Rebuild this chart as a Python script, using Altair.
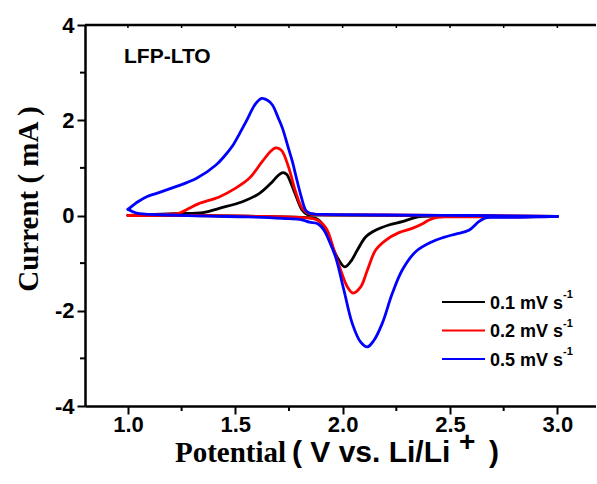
import altair as alt
import pandas as pd

# Cyclic voltammograms of the LFP-LTO cell at three scan rates.
# Each loop is stored as an anodic sweep (1.0 -> 3.0 V) and a cathodic sweep (3.0 -> 1.0 V).
rates = ["0.1 mV s", "0.2 mV s", "0.5 mV s"]
colors = ["#000000", "#ff0000", "#0000ff"]

# 0.1 mV/s
v_an_1 = [1.0, 1.22, 1.35, 1.425, 1.533, 1.611, 1.673, 1.704, 1.723, 1.74, 1.75, 1.781, 1.812, 1.835, 1.9, 2.4, 3.0]
i_an_1 = [0.0, 0.04, 0.06, 0.15, 0.29, 0.46, 0.71, 0.86, 0.90, 0.86, 0.78, 0.43, 0.11, 0.02, 0.01, 0.0, -0.02]
v_ca_1 = [3.0, 2.6, 2.37, 2.324, 2.277, 2.215, 2.153, 2.107, 2.068, 2.037, 2.009, 1.983, 1.951, 1.92, 1.897, 1.874, 1.82, 1.56, 1.3, 1.0]
i_ca_1 = [-0.02, -0.02, -0.02, -0.06, -0.13, -0.2, -0.31, -0.45, -0.73, -0.97, -1.08, -0.94, -0.66, -0.31, -0.13, -0.06, -0.04, -0.015, 0.0, 0.0]

# 0.2 mV/s
v_an_2 = [1.0, 1.15, 1.24, 1.285, 1.33, 1.425, 1.50, 1.565, 1.625, 1.665, 1.688, 1.705, 1.72, 1.75, 1.781, 1.812, 1.843, 1.9, 2.2, 2.6, 3.0]
i_an_2 = [0.0, 0.02, 0.05, 0.15, 0.25, 0.39, 0.57, 0.78, 1.13, 1.35, 1.42, 1.40, 1.34, 0.99, 0.50, 0.15, 0.04, 0.02, 0.01, 0.0, -0.02]
v_ca_2 = [3.0, 2.8, 2.5, 2.44, 2.40, 2.37, 2.324, 2.262, 2.2, 2.153, 2.115, 2.084, 2.048, 2.022, 1.991, 1.96, 1.928, 1.905, 1.874, 1.80, 1.56, 1.3, 1.0]
i_ca_2 = [-0.02, -0.03, -0.03, -0.04, -0.10, -0.18, -0.27, -0.36, -0.52, -0.73, -1.15, -1.50, -1.63, -1.50, -1.15, -0.73, -0.31, -0.17, -0.08, -0.04, -0.015, 0.0, 0.0]

# 0.5 mV/s
v_an_5 = [1.0, 1.05, 1.09, 1.13, 1.22, 1.32, 1.41, 1.45, 1.49, 1.52, 1.55, 1.595, 1.623, 1.65, 1.673, 1.70, 1.72, 1.745, 1.766, 1.785, 1.805, 1.828, 1.845, 1.87, 1.95, 2.2, 2.6, 3.0]
i_an_5 = [0.13, 0.30, 0.40, 0.46, 0.60, 0.78, 1.06, 1.25, 1.48, 1.72, 1.97, 2.35, 2.46, 2.42, 2.32, 2.05, 1.83, 1.45, 1.13, 0.78, 0.43, 0.11, 0.05, 0.03, 0.02, 0.01, 0.0, -0.02]
v_ca_5 = [3.0, 2.9, 2.8, 2.7, 2.665, 2.634, 2.588, 2.526, 2.47, 2.417, 2.34, 2.277, 2.231, 2.184, 2.146, 2.115, 2.084, 2.045, 2.006, 1.967, 1.936, 1.913, 1.882, 1.845, 1.81, 1.72, 1.56, 1.38, 1.2, 1.08, 1.04, 1.0]
i_ca_5 = [-0.02, -0.03, -0.04, -0.04, -0.05, -0.13, -0.31, -0.39, -0.46, -0.55, -0.76, -1.15, -1.64, -2.27, -2.62, -2.76, -2.66, -2.27, -1.57, -0.87, -0.52, -0.31, -0.17, -0.14, -0.09, -0.06, -0.03, -0.015, 0.01, 0.03, 0.05, 0.13]

sweeps = [
    (v_an_1, i_an_1, v_ca_1, i_ca_1),
    (v_an_2, i_an_2, v_ca_2, i_ca_2),
    (v_an_5, i_an_5, v_ca_5, i_ca_5),
]

x_major = [1.0, 1.5, 2.0, 2.5, 3.0]
x_minor = [1.25, 1.75, 2.25, 2.75]
x_top = [1.0, 1.25, 1.5, 1.75, 2.0, 2.25, 2.5, 2.75, 3.0]
y_major = [-4, -2, 0, 2, 4]
y_minor = [-3, -1, 1, 3]

W, H = 511, 381
SANS = "Liberation Sans"
SERIF = "Liberation Serif"

xs = alt.Scale(domain=[0.8, 3.18], nice=False, zero=False)
ys = alt.Scale(domain=[-4, 4], nice=False, zero=False)

x_axis = alt.Axis(values=x_major, labelExpr="format(datum.value, '.1f')", title=None, grid=False,
                  labelFont=SANS, labelFontWeight="bold", labelFontSize=22, labelColor="black",
                  labelPadding=0, tickSize=8, tickWidth=2, tickColor="black",
                  domainWidth=2.5, domainColor="black")
y_axis = alt.Axis(values=y_major, labelExpr="'' + datum.value", title=None, grid=False,
                  labelFont=SANS, labelFontWeight="bold", labelFontSize=22, labelColor="black",
                  labelPadding=3, tickSize=8, tickWidth=2, tickColor="black",
                  domainWidth=2.5, domainColor="black")

xenc = alt.X("V:Q", scale=xs, axis=x_axis)
yenc = alt.Y("I:Q", scale=ys, axis=y_axis)

layers = []

# one voltammogram per scan rate, drawn in order so blue lies on top
for name, color, (va, ia, vc, ic) in zip(rates, colors, sweeps):
    rows = [{"V": v, "I": i, "branch": "anodic"} for v, i in zip(va, ia)]
    rows += [{"V": v, "I": i, "branch": "cathodic"} for v, i in zip(vc, ic)]
    df = pd.DataFrame(rows)
    layers.append(
        alt.Chart(df).mark_line(color=color, strokeWidth=2.8, interpolate="catmull-rom",
                                strokeJoin="round", strokeCap="round")
        .encode(x=xenc, y=yenc, detail="branch:N")
    )

# minor ticks and the top frame line
tick_style = dict(color="black", strokeWidth=2)
layers.append(
    alt.Chart(pd.DataFrame({"I": y_minor})).mark_rule(**tick_style)
    .encode(y=yenc, x=alt.value(-5), x2=alt.value(0))
)
layers.append(
    alt.Chart(pd.DataFrame({"V": x_minor})).mark_rule(**tick_style)
    .encode(x=xenc, y=alt.value(H), y2=alt.value(H + 5))
)
layers.append(
    alt.Chart(pd.DataFrame({"V": x_top})).mark_rule(color="black", strokeWidth=1.5)
    .encode(x=xenc, y=alt.value(0), y2=alt.value(3))
)
layers.append(
    alt.Chart(pd.DataFrame({"k": [0]})).mark_rule(color="black", strokeWidth=2.5)
    .encode(x=alt.value(0), x2=alt.value(W), y=alt.value(0))
)


def label(text, x, y, font, size, align="left", baseline="alphabetic", angle=0):
    props = dict(font=font, fontSize=size, fontWeight="bold", color="black",
                 align=align, baseline=baseline)
    if angle:
        props["angle"] = angle
    return (alt.Chart(pd.DataFrame({"t": [text]})).mark_text(**props)
            .encode(x=alt.value(x), y=alt.value(y), text="t:N"))


# sample label
layers.append(label("LFP-LTO", 39, 38, SANS, 21))

# axis titles
layers.append(label("Current ( mA )", -56, 174, SERIF, 29, align="center", baseline="middle", angle=270))
layers.append(label("Potential", 90, 437, SERIF, 29))
layers.append(label("( V vs. Li/Li", 207, 437, SANS, 30))
layers.append(label("+", 374, 418, SANS, 28, baseline="middle"))
layers.append(label(")", 404, 437, SANS, 30))

# legend
for k, (name, color) in enumerate(zip(rates, colors)):
    ry = 277 + 28.5 * k
    layers.append(
        alt.Chart(pd.DataFrame({"k": [k]})).mark_rule(color=color, strokeWidth=2.2)
        .encode(x=alt.value(357), x2=alt.value(400), y=alt.value(ry))
    )
    layers.append(label(name, 405, ry + 6.5, SANS, 18))
    layers.append(label("-1", 478, ry - 4, SANS, 11))

chart = (
    alt.layer(*layers)
    .properties(width=W, height=H,
                autosize=alt.AutoSizeParams(type="none"),
                padding={"left": 85, "top": 25, "right": 0, "bottom": 78})
    .configure_view(stroke=None)
    .configure(background="white")
)

chart.save("out.html", embed_options={"renderer": "svg", "actions": False})
